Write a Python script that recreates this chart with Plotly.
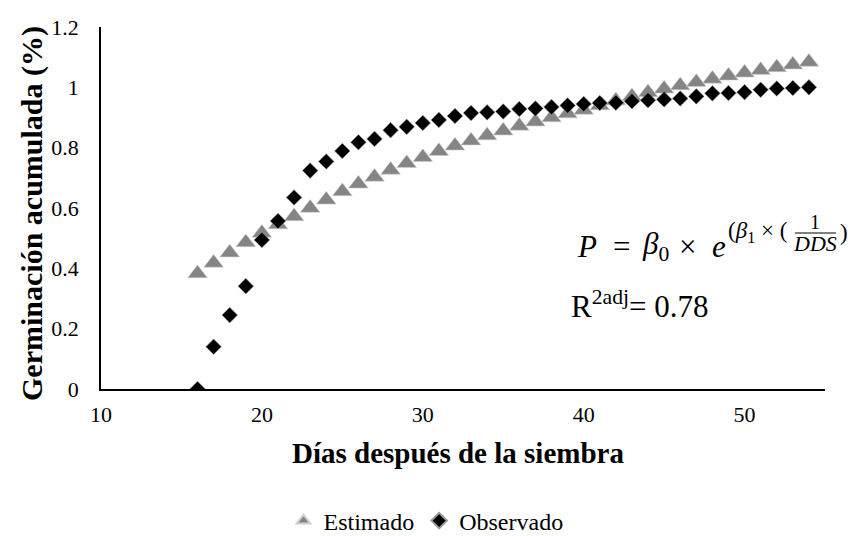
import plotly.graph_objects as go

# ---- data ----
dias = list(range(16, 55))
estimado = [0.383, 0.418, 0.452, 0.486, 0.517, 0.545, 0.572, 0.600, 0.627, 0.655,
            0.680, 0.703, 0.726, 0.748, 0.768, 0.788, 0.806, 0.823, 0.840, 0.856,
            0.872, 0.886, 0.900, 0.913, 0.925, 0.940, 0.956, 0.970, 0.983, 0.995,
            1.006, 1.017, 1.028, 1.038, 1.048, 1.057, 1.066, 1.075, 1.084]
observado = [0.0, 0.14, 0.245, 0.341, 0.494, 0.557, 0.635, 0.724, 0.754, 0.789,
             0.818, 0.829, 0.858, 0.869, 0.882, 0.892, 0.905, 0.915, 0.917, 0.920,
             0.928, 0.930, 0.935, 0.940, 0.945, 0.948, 0.949, 0.954, 0.957, 0.960,
             0.963, 0.970, 0.980, 0.981, 0.984, 0.992, 0.996, 0.998, 1.0]
x_ticks = [10, 20, 30, 40, 50]
y_ticks = [0, 0.2, 0.4, 0.6, 0.8, 1.0, 1.2]
y_tick_text = ["0", "0.2", "0.4", "0.6", "0.8", "1", "1.2"]

# page body has an 8px margin: the figure starts at (8, 8) of the window
OX, OY = 8, 8
W, H = 848, 528
# plot area in window pixels: x 101..825, y 27..389
PL, PR, PT, PB = 101, 825, 27, 389
L, R, T, B = PL - OX, OX + W - PR, PT - OY, OY + H - PB
PW, PH = PR - PL, PB - PT


def px(X):
    return (X - PL) / PW


def py(Y):
    return (PB - Y) / PH


SERIF = "Liberation Serif, Times New Roman, serif"


def note(text, X, Y, size, xanchor="left", angle=0):
    return dict(text=text, x=px(X), y=py(Y), xref="paper", yref="paper",
                xanchor=xanchor, yanchor="middle", showarrow=False, textangle=angle,
                font=dict(family=SERIF, size=size, color="#000"))


fig = go.Figure()
fig.add_trace(go.Scatter(
    x=dias, y=estimado, mode="markers", name="Estimado",
    marker=dict(symbol="triangle-up", size=17, color="#858585",
                line=dict(width=0.6, color="#cfcfcf")),
))
fig.add_trace(go.Scatter(
    x=dias, y=observado, mode="markers", name="Observado",
    marker=dict(symbol="diamond", size=12, color="#000000",
                line=dict(width=0.6, color="#9a9a9a")),
))

ann = [
    # equation, token by token
    note("<i>P</i>", 587, 246, 31, "center"),
    note("=", 621, 246, 31, "center"),
    note("<i>β</i><sub>0</sub>", 640, 246, 31),
    note("×", 687, 246, 31, "center"),
    note("<i>e</i>", 719, 246, 31, "center"),
    note("(<i>β</i><sub>1</sub> × (", 726, 232, 23),
    note("1", 815, 222, 20, "center"),
    note("<i>DDS</i>", 815, 243, 22, "center"),
    note("))", 838, 232, 23),
    # fit quality
    note("R<sup>2adj</sup>= 0.78", 569, 304, 31),
    # axis titles
    note("<b>Germinación acumulada (%)</b>", 32, 214, 30, "center", -90),
    note("<b>Días después de la siembra</b>", 458, 453, 29, "center"),
]

fig.update_layout(
    width=W, height=H,
    margin=dict(l=L, r=R, t=T, b=B, pad=0, autoexpand=False),
    paper_bgcolor="white", plot_bgcolor="white",
    font=dict(family=SERIF, size=22, color="#000"),
    showlegend=True,
    legend=dict(orientation="h", x=px(426), y=py(521), xanchor="center", yanchor="middle",
                font=dict(family=SERIF, size=24, color="#000"),
                itemsizing="constant", tracegroupgap=0, itemwidth=30),
    annotations=ann,
    shapes=[dict(type="line", xref="paper", yref="paper",
                 x0=px(795), x1=px(836), y0=py(233), y1=py(233),
                 line=dict(color="#000", width=1.2))],
)
fig.update_xaxes(range=[10, 55], tickvals=x_ticks, showgrid=False, zeroline=False,
                 showline=True, linecolor="#000", linewidth=1.5, ticks="", automargin=False,
                 ticklabelstandoff=5, tickfont=dict(family=SERIF, size=22, color="#000"))
fig.update_yaxes(range=[0, 1.2], tickvals=y_ticks, ticktext=y_tick_text, showgrid=False,
                 zeroline=False, showline=True, linecolor="#000", linewidth=1.5, ticks="",
                 automargin=False,
                 ticklabelstandoff=16, tickfont=dict(family=SERIF, size=22, color="#000"))

fig.write_html("out.html")
